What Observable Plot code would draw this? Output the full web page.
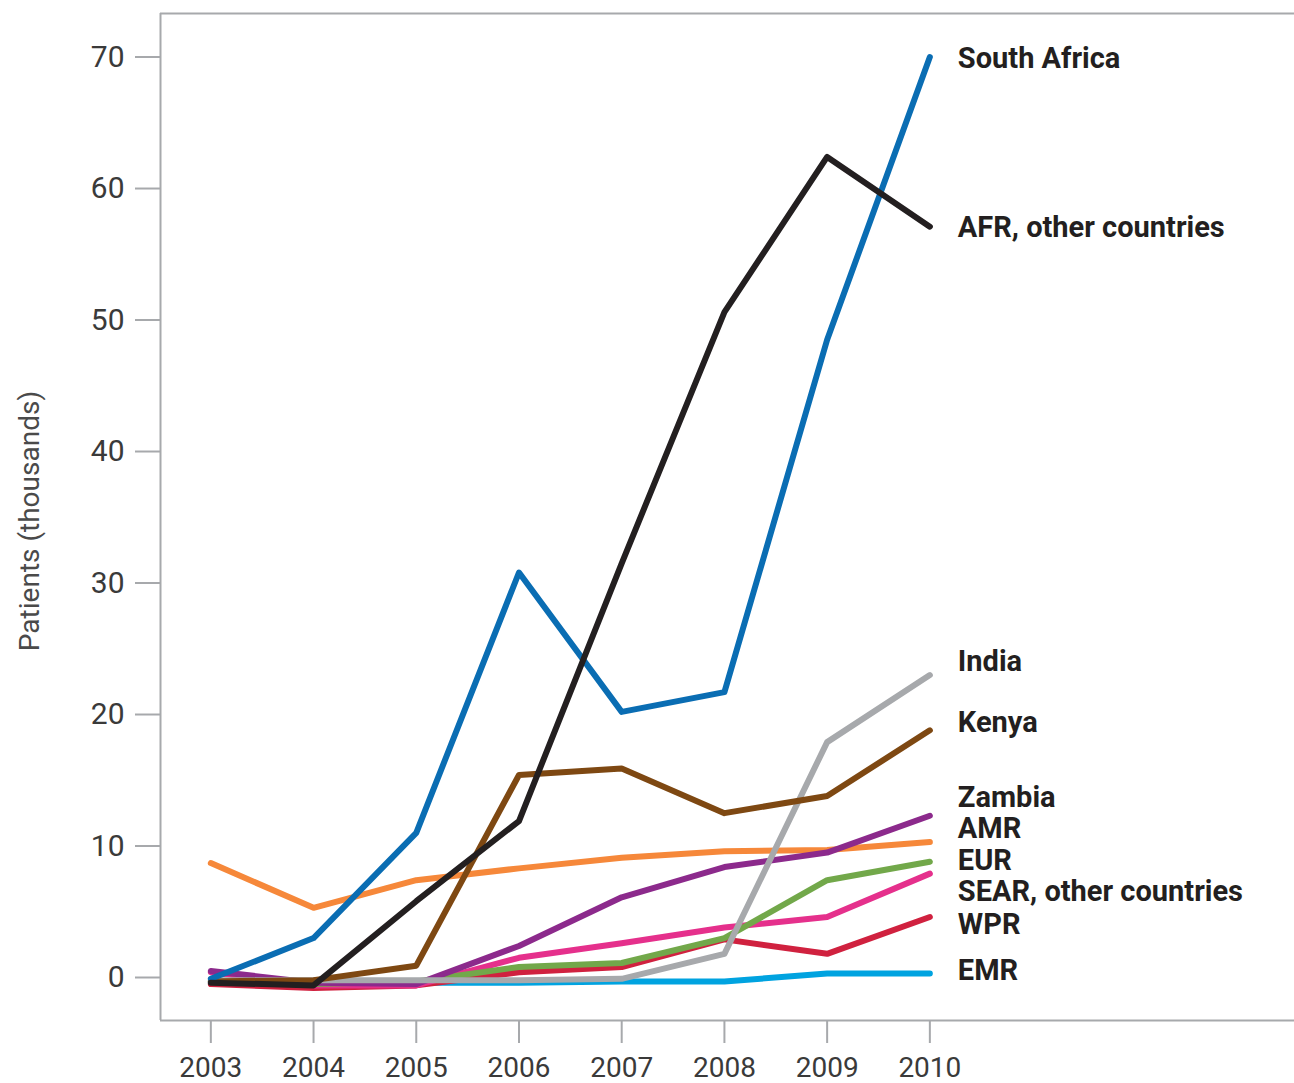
<!DOCTYPE html>
<html>
<head>
<meta charset="utf-8">
<script src="https://cdn.jsdelivr.net/npm/d3@7"></script>
<script src="https://cdn.jsdelivr.net/npm/@observablehq/plot@0.6"></script>
<style>
  html, body { margin: 0; padding: 0; background: #fff; }
  #chart svg { display: block; }
</style>
</head>
<body>
<div id="chart"></div>
<script>
// ---- Data (patients, thousands) ----
const years = [2003, 2004, 2005, 2006, 2007, 2008, 2009, 2010];
const yTicks = [0, 10, 20, 30, 40, 50, 60, 70];

const seriesNames = ["EMR", "WPR", "SEAR, other countries", "EUR", "AMR", "Zambia", "India", "Kenya", "South Africa", "AFR, other countries"];
const emr          = [-0.4, -0.4, -0.4, -0.4, -0.3, -0.3, 0.3, 0.3];
const wpr          = [-0.5, -0.8, -0.6, 0.4, 0.8, 2.9, 1.8, 4.6];
const sear         = [0.4, -0.6, -0.6, 1.5, 2.6, 3.8, 4.6, 7.9];
const eur          = [-0.3, -0.5, -0.3, 0.8, 1.1, 3.0, 7.4, 8.8];
const amr          = [8.7, 5.3, 7.4, 8.3, 9.1, 9.6, 9.7, 10.3];
const zambia       = [0.5, -0.4, -0.5, 2.4, 6.1, 8.4, 9.5, 12.3];
const india        = [-0.2, -0.2, -0.2, -0.2, -0.1, 1.8, 17.9, 23.0];
const kenya        = [-0.3, -0.2, 0.9, 15.4, 15.9, 12.5, 13.8, 18.8];
const southAfrica  = [-0.1, 3.0, 11.0, 30.8, 20.2, 21.7, 48.5, 70.0];
const afrOther     = [-0.4, -0.6, 5.8, 11.9, 31.5, 50.6, 62.4, 57.1];
const seriesValues = [emr, wpr, sear, eur, amr, zambia, india, kenya, southAfrica, afrOther];
const seriesColors = ["#00a3e0", "#d0213f", "#e5308c", "#72a84a", "#f6883a", "#8c2a8c", "#a7a9ac", "#7e4812", "#0a6db3", "#231f20"];
// where each end label sits (value units)
const labelValues  = [0.5, 4.0, 6.5, 8.9, 11.3, 13.7, 24.0, 19.4, 69.9, 57.0];

// ---- Build table ----
const rows = [];
seriesNames.forEach((name, i) => {
  years.forEach((yr, j) => rows.push({series: name, year: yr, value: seriesValues[i][j]}));
});
const labels = seriesNames.map((name, i) => ({series: name, year: years[years.length - 1], value: labelValues[i]}));

const xDomain = [2002.51, 2013.55];
const yDomain = [-3.27, 73.31];
const frameColor = "#a7a9ac";

const chart = Plot.plot({
  width: 1294,
  height: 1083,
  marginLeft: 160,
  marginRight: 0,
  marginTop: 13,
  marginBottom: 63,
  style: {fontFamily: "Roboto, 'Noto Sans', sans-serif", background: "#fff", overflow: "visible"},
  x: {type: "linear", domain: xDomain},
  y: {domain: yDomain},
  color: {domain: seriesNames, range: seriesColors},
  marks: [
    Plot.ruleX([xDomain[0]], {stroke: frameColor, strokeWidth: 2}),
    Plot.ruleY([yDomain[0], yDomain[1]], {stroke: frameColor, strokeWidth: 2}),
    Plot.axisY(yTicks, {tickSize: 25, tickPadding: 11, stroke: frameColor, strokeWidth: 2, fill: "#3a3a3a", fontSize: 30, label: null}),
    Plot.axisX(years, {tickSize: 23, tickPadding: 14, stroke: frameColor, strokeWidth: 2, fill: "#3a3a3a", fontSize: 28, tickFormat: "d", label: null}),
    Plot.text(["Patients (thousands)"], {frameAnchor: "left", textAnchor: "middle", rotate: -90, dx: -130, dy: 4, fontSize: 28, fill: "#4a4a4a"}),
    Plot.line(rows, {x: "year", y: "value", z: "series", stroke: "series", strokeWidth: 6, strokeLinejoin: "round", strokeLinecap: "round"}),
    Plot.text(labels, {x: "year", y: "value", text: "series", dx: 28, textAnchor: "start", fontSize: 29, fontWeight: "bold", fill: "#231f20"})
  ]
});
document.getElementById("chart").appendChild(chart);
</script>
</body>
</html>
